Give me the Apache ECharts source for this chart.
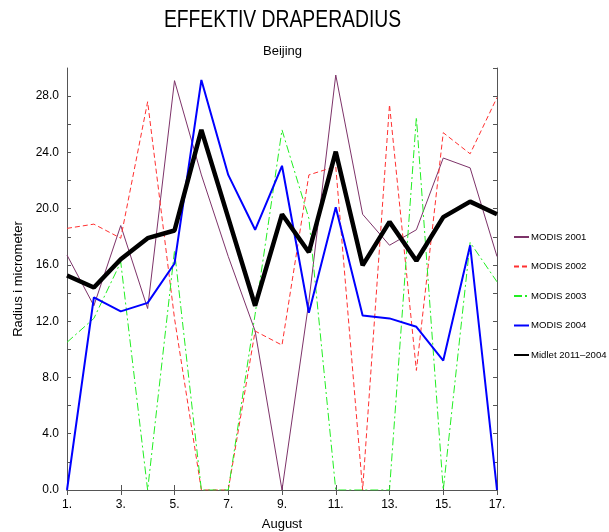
<!DOCTYPE html>
<html>
<head>
<meta charset="utf-8">
<script src="https://cdn.jsdelivr.net/npm/echarts@6/dist/echarts.min.js"></script>
<style>
html,body{margin:0;padding:0;background:#fff;}
#chart{width:609px;height:532px;}
</style>
</head>
<body>
<div id="chart"></div>
<script>
var days = [1,2,3,4,5,6,7,8,9,10,11,12,13,14,15,16,17];
var modis2001 = [16.7, 13.1, 18.8, 12.9, 29.1, 22.4, 16.6, 11.3, 0, 13.4, 29.5, 19.6, 17.4, 18.5, 23.6, 22.9, 16.6];
var modis2002 = [18.6, 18.9, 17.9, 27.6, 12.2, 0, 0, 11.3, 10.3, 22.4, 23.0, 0, 27.4, 8.5, 25.4, 23.9, 27.9];
var modis2003 = [10.5, 12.2, 16.2, 0, 17.0, 0, 0, 12.5, 25.6, 19.3, 0, 0, 0, 26.5, 0, 17.6, 14.8];
var modis2004 = [0, 13.7, 12.7, 13.3, 16.1, 29.15, 22.4, 18.5, 23.05, 12.6, 20.1, 12.4, 12.2, 11.6, 9.2, 17.4, 0];
var midlet = [15.25, 14.4, 16.4, 17.9, 18.45, 25.6, 19.35, 13.1, 19.6, 16.9, 24.05, 15.97, 19.06, 16.3, 19.4, 20.5, 19.6];
var seriesNames = ['MODIS 2001','MODIS 2002','MODIS 2003','MODIS 2004','Midlet 2011\u20132004'];
var titleText = 'EFFEKTIV DRAPERADIUS';
var subtitleText = 'Beijing';
var yName = 'Radius i micrometer';
var xName = 'August';

var FONT = 'Liberation Sans, Arial, sans-serif';
var AX = '#555';

var chart = echarts.init(document.getElementById('chart'), null, {renderer:'canvas'});

var xLab = days.map(function(d){return d + '.';});

var option = {
  animation: false,
  backgroundColor: '#fff',
  textStyle: {fontFamily: FONT},
  graphic: [
    {type:'text', x:282.5, y:20.5, scaleX:0.84, style:{text:titleText, font:'23px ' + FONT, fill:'#000', textAlign:'center', textVerticalAlign:'middle'}},
    {type:'text', x:282.5, y:51, style:{text:subtitleText, font:'13px ' + FONT, fill:'#000', textAlign:'center', textVerticalAlign:'middle'}}
  ],
  grid: {left:67, right:112, top:68, bottom:42, containLabel:false, outerBoundsMode:'none'},
  legend: {
    orient:'vertical', left:508, top:227,
    itemWidth:15, itemHeight:12, itemGap:19.5,
    itemStyle:{color:'rgba(0,0,0,0)', borderColor:'rgba(0,0,0,0)', borderWidth:0, opacity:0},
    textStyle:{fontSize:9.6, fontFamily:FONT, color:'#000', padding:[0,0,0,-3]},
    data: seriesNames
  },
  xAxis: [
    {type:'category', data:xLab, boundaryGap:false, position:'bottom',
     name:xName, nameLocation:'middle', nameGap:28, nameTextStyle:{fontSize:13, color:'#000', fontFamily:FONT, verticalAlign:'top'},
     axisLine:{lineStyle:{color:AX, width:1}},
     axisTick:{inside:true, length:5, interval:1, lineStyle:{color:AX}},
     axisLabel:{interval:1, color:'#000', fontSize:12, margin:9, fontFamily:FONT},
     splitLine:{show:false}},
    {type:'category', data:xLab, boundaryGap:false, position:'top',
     axisLine:{lineStyle:{color:AX, width:1}},
     axisTick:{inside:true, length:5, interval:1, lineStyle:{color:AX}},
     axisLabel:{show:false}, splitLine:{show:false}}
  ],
  yAxis: [
    {type:'value', min:0, max:30, interval:2, position:'left',
     name:yName, nameLocation:'middle', nameGap:41, nameRotate:90, nameTextStyle:{fontSize:13, color:'#000', fontFamily:FONT},
     axisLine:{show:true, lineStyle:{color:AX, width:1}},
     axisTick:{show:true, inside:true, length:4, lineStyle:{color:AX}},
     axisLabel:{color:'#000', fontSize:12, margin:8, fontFamily:FONT, showMaxLabel:false,
       formatter:function(v){return (v % 4 === 0 && v < 30) ? v.toFixed(1) : '';}},
     splitLine:{show:false}},
    {type:'value', min:0, max:30, interval:2, position:'right',
     axisLine:{show:true, lineStyle:{color:AX, width:1}},
     axisTick:{show:true, inside:true, length:4, lineStyle:{color:AX}},
     axisLabel:{show:false}, splitLine:{show:false}}
  ],
  series: [
    {name:seriesNames[0], type:'line', data:modis2001, showSymbol:false, symbol:'none', z:2,
     lineStyle:{color:'#7d3369', width:1}, itemStyle:{color:'#7d3369'}},
    {name:seriesNames[1], type:'line', data:modis2002, showSymbol:false, symbol:'none', z:3,
     lineStyle:{color:'#ff3030', width:1, type:[5,3]}, itemStyle:{color:'#ff3030'}},
    {name:seriesNames[2], type:'line', data:modis2003, showSymbol:false, symbol:'none', z:4,
     lineStyle:{color:'#22ee22', width:1, type:[8,3,2,3]}, itemStyle:{color:'#22ee22'}},
    {name:seriesNames[3], type:'line', data:modis2004, showSymbol:false, symbol:'none', z:5,
     lineStyle:{color:'#0000ff', width:2}, itemStyle:{color:'#0000ff'}},
    {name:seriesNames[4], type:'line', data:midlet, showSymbol:false, symbol:'none', z:6,
     lineStyle:{color:'#000', width:4.5}, itemStyle:{color:'#000'}}
  ]
};
chart.setOption(option);
</script>
</body>
</html>
